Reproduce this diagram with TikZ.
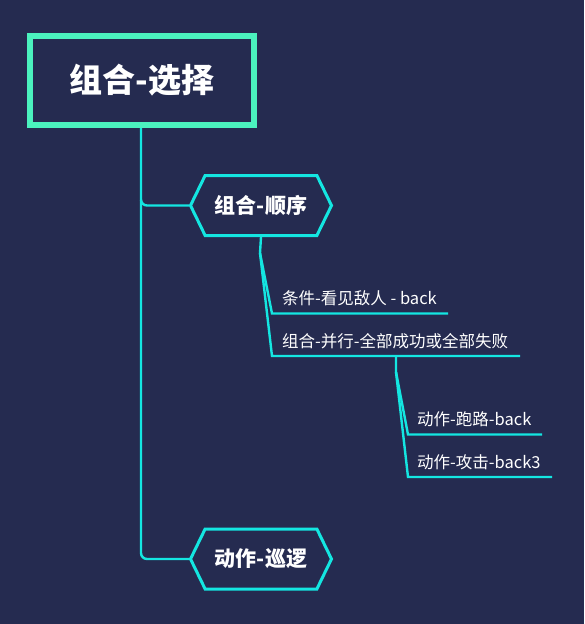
\documentclass[tikz,border=0pt]{standalone}
\usepackage{fontspec}
\setmainfont{Noto Sans CJK SC}
\usetikzlibrary{shapes.symbols}
\definecolor{bgnavy}{RGB}{37,43,80}
\definecolor{mint}{RGB}{75,242,190}
\definecolor{aqua}{RGB}{20,230,225}
\tikzset{
  rootbox/.style={draw=mint, line width=6pt, fill=bgnavy, text=white, font=\bfseries\fontsize{33}{36}\selectfont, minimum width=224pt, minimum height=89pt},
  hexbox/.style={signal, signal to=west and east, signal pointer angle=128, draw=aqua, line width=3pt, fill=bgnavy, text=white, font=\bfseries\fontsize{21}{24}\selectfont, minimum width=141pt, minimum height=60pt, inner xsep=4pt},
  leaf/.style={text=white, font=\fontsize{16.5}{19}\selectfont, anchor=west, inner sep=0pt},
  branch/.style={draw=aqua, line width=2.4pt}
}
\begin{document}
\begin{tikzpicture}[x=1pt,y=-1pt]
\fill [bgnavy] (0,0) rectangle (584,624);
\useasboundingbox (0,0) rectangle (584,624);

\node [hexbox] (seq) at (261,205.5) {组合-顺序};
\node [hexbox] (patrol) at (261,559) {动作-巡逻};
\draw [branch, rounded corners=6pt] (141,126) -- (141,205.5) -- (seq.west);
\draw [branch, rounded corners=6pt] (141,200) -- (141,559) -- (patrol.west);
\node [rootbox] (root) at (142,80.5) {组合-选择};

\node [leaf] (see) at (282,298) {条件-看见敌人 - back};
\node [leaf] (par) at (282,341) {组合-并行-全部成功或全部失败};
\coordinate (seeL) at (272,313.5);
\coordinate (seeR) at (448,313.5);
\coordinate (parL) at (272,356);
\coordinate (parR) at (520,356);
\draw [branch] (seq.south) -- (260,253) coordinate (seqfork) -- (seeL) -- (seeR);
\draw [branch] (seqfork) -- (parL) -- (parR);

\node [leaf] (run) at (417,419) {动作-跑路-back};
\node [leaf] (hit) at (417,462) {动作-攻击-back3};
\coordinate (runL) at (408,434.5);
\coordinate (runR) at (542,434.5);
\coordinate (hitL) at (408,477);
\coordinate (hitR) at (552,477);
\draw [branch] (396,356) -- (396,372) coordinate (parfork) -- (runL) -- (runR);
\draw [branch] (parfork) -- (hitL) -- (hitR);

\end{tikzpicture}
\end{document}
